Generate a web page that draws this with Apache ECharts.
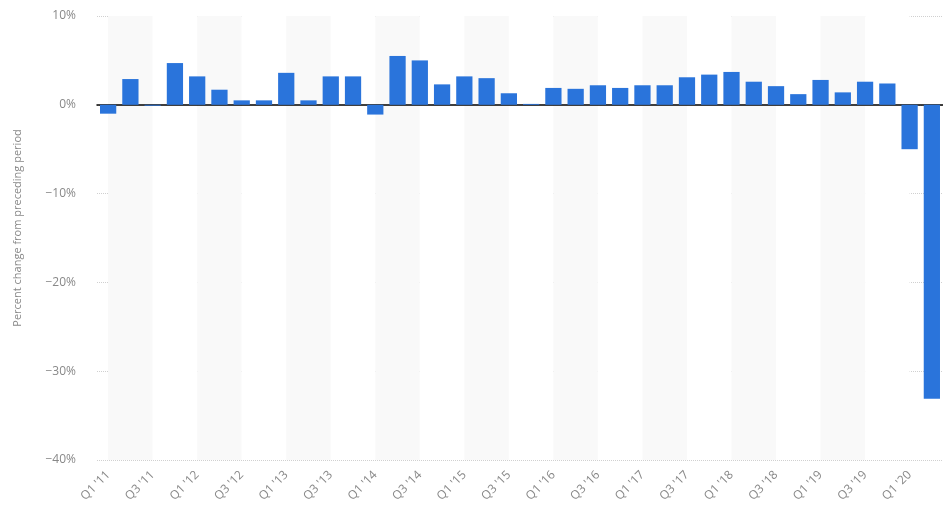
<!DOCTYPE html>
<html>
<head>
<meta charset="utf-8">
<script src="https://cdn.jsdelivr.net/npm/echarts@6/dist/echarts.min.js"></script>
<style>html,body{margin:0;padding:0;background:#fff;}#c{width:943px;height:518px;}</style>
</head>
<body>
<div id="c"></div>
<script>
var categories = ["Q1 '11","Q2 '11","Q3 '11","Q4 '11","Q1 '12","Q2 '12","Q3 '12","Q4 '12","Q1 '13","Q2 '13","Q3 '13","Q4 '13","Q1 '14","Q2 '14","Q3 '14","Q4 '14","Q1 '15","Q2 '15","Q3 '15","Q4 '15","Q1 '16","Q2 '16","Q3 '16","Q4 '16","Q1 '17","Q2 '17","Q3 '17","Q4 '17","Q1 '18","Q2 '18","Q3 '18","Q4 '18","Q1 '19","Q2 '19","Q3 '19","Q4 '19","Q1 '20","Q2 '20"];
var gdpChange = [-1.0, 2.9, -0.1, 4.7, 3.2, 1.7, 0.5, 0.5, 3.6, 0.5, 3.2, 3.2, -1.1, 5.5, 5.0, 2.3, 3.2, 3.0, 1.3, 0.1, 1.9, 1.8, 2.2, 1.9, 2.2, 2.2, 3.1, 3.4, 3.7, 2.6, 2.1, 1.2, 2.8, 1.4, 2.6, 2.4, -5.0, -33.1];
var yTicks = [10, 0, -10, -20, -30, -40];

var chart = echarts.init(document.getElementById('c'), null, {renderer: 'canvas'});
chart.setOption({
  animation: false,
  textStyle: {fontFamily: 'Open Sans'},
  grid: {left: 97, top: 16, bottom: 58, width: 855},
  xAxis: {
    type: 'category',
    data: categories,
    axisLine: {onZero: true, lineStyle: {color: '#000', width: 1.5}},
    axisTick: {show: false},
    axisLabel: {interval: 1, rotate: 45, color: '#888', fontSize: 12, margin: 13},
    splitArea: {show: true, interval: 1, alignWithLabel: true, areaStyle: {color: ['#f9f9f9', '#ffffff']}}
  },
  yAxis: {
    type: 'value',
    min: yTicks[yTicks.length - 1],
    max: yTicks[0],
    interval: 10,
    name: 'Percent change from preceding period',
    nameLocation: 'middle',
    nameGap: 74,
    nameTextStyle: {color: '#888', fontSize: 11, padding: [0, 0, 0, 20]},
    axisLine: {show: false},
    axisTick: {show: false},
    axisLabel: {color: '#888', fontSize: 12, margin: 21, formatter: function (v) { return String(v).replace('-', '\u2212') + '%'; }},
    splitLine: {lineStyle: {color: '#d0d0d0', type: 'dotted'}}
  },
  series: [{
    type: 'bar',
    data: gdpChange,
    barWidth: '73%',
    itemStyle: {color: '#2a74db'}
  }]
});
</script>
</body>
</html>
